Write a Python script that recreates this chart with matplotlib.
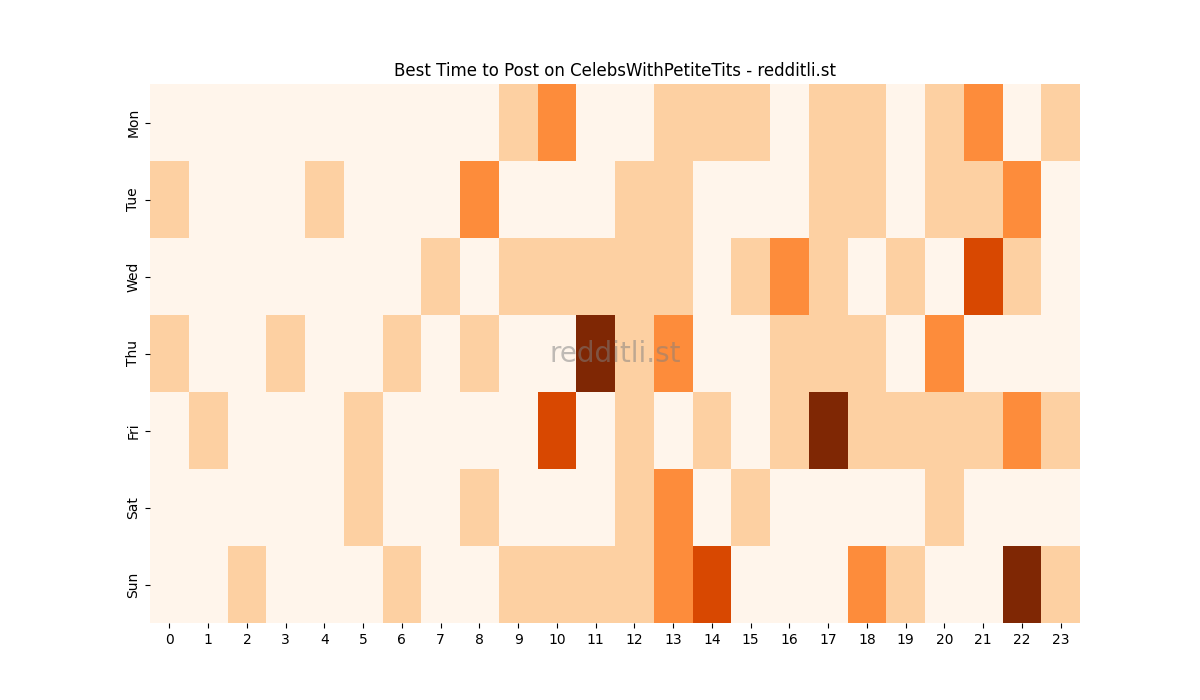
import matplotlib
matplotlib.use("Agg")
import matplotlib.pyplot as plt
import seaborn as sns
import numpy as np

days = ["Mon", "Tue", "Wed", "Thu", "Fri", "Sat", "Sun"]
hours = list(range(24))

mon = [0, 0, 0, 0, 0, 0, 0, 0, 0, 1, 2, 0, 0, 1, 1, 1, 0, 1, 1, 0, 1, 2, 0, 1]
tue = [1, 0, 0, 0, 1, 0, 0, 0, 2, 0, 0, 0, 1, 1, 0, 0, 0, 1, 1, 0, 1, 1, 2, 0]
wed = [0, 0, 0, 0, 0, 0, 0, 1, 0, 1, 1, 1, 1, 1, 0, 1, 2, 1, 0, 1, 0, 3, 1, 0]
thu = [1, 0, 0, 1, 0, 0, 1, 0, 1, 0, 0, 4, 1, 2, 0, 0, 1, 1, 1, 0, 2, 0, 0, 0]
fri = [0, 1, 0, 0, 0, 1, 0, 0, 0, 0, 3, 0, 1, 0, 1, 0, 1, 4, 1, 1, 1, 1, 2, 1]
sat = [0, 0, 0, 0, 0, 1, 0, 0, 1, 0, 0, 0, 1, 2, 0, 1, 0, 0, 0, 0, 1, 0, 0, 0]
sun = [0, 0, 1, 0, 0, 0, 1, 0, 0, 1, 1, 1, 1, 2, 3, 0, 0, 0, 2, 1, 0, 0, 4, 1]

grid = np.array([mon, tue, wed, thu, fri, sat, sun])

fig, ax = plt.subplots(figsize=(12, 7), dpi=100)
sns.heatmap(grid, cmap="Oranges", cbar=False, ax=ax,
            xticklabels=hours, yticklabels=days)
ax.set_title("Best Time to Post on CelebsWithPetiteTits - redditli.st")

# watermark
ax.text(0.5, 0.5, "redditli.st", transform=ax.transAxes, ha="center",
        va="center", fontsize=20, color="gray", alpha=0.5)

plt.savefig("out.png")
